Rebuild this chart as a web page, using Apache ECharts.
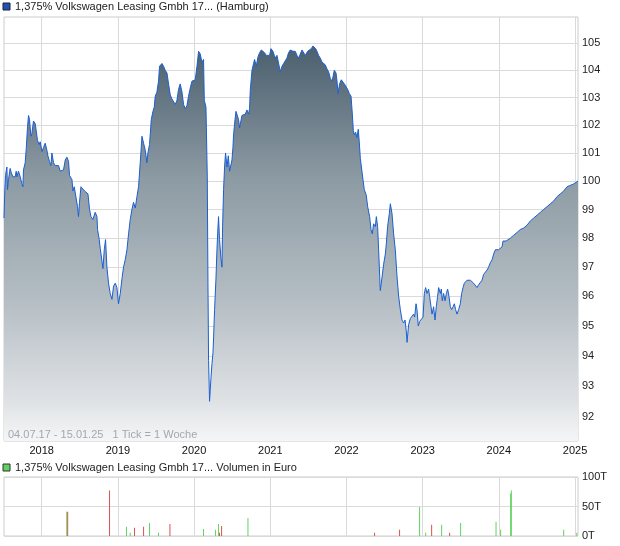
<!DOCTYPE html>
<html><head><meta charset="utf-8">
<script src="https://cdn.jsdelivr.net/npm/echarts@6/dist/echarts.min.js"></script>
<style>html,body{margin:0;padding:0;background:#fff}#c{width:620px;height:546px}</style>
</head><body><div id="c"></div>
<script>
const seriesName = '1,375% Volkswagen Leasing Gmbh 17... (Hamburg)';
const volName = '1,375% Volkswagen Leasing Gmbh 17... Volumen in Euro';
const infoText = '04.07.17 - 15.01.25   1 Tick = 1 Woche';
const yearTicks = [2018, 2019, 2020, 2021, 2022, 2023, 2024, 2025];
const priceTicks = [92, 93, 94, 95, 96, 97, 98, 99, 100, 101, 102, 103, 104, 105];
const volTicks = [0, 50000, 100000];

// decimal years (04.07.17 - 15.01.25)
const years = [
2017.505,2017.515,2017.525,2017.543,2017.551,2017.564,2017.586,2017.600,2017.622,2017.652,2017.665,2017.674,2017.695,2017.718,2017.740,2017.753,2017.761,2017.783,2017.797,2017.814,2017.827,2017.840,2017.858,2017.871,2017.892,2017.915,2017.937,2017.945,2017.967,2017.980,
2018.003,2018.024,2018.046,2018.068,2018.081,2018.102,2018.121,2018.134,2018.155,2018.177,2018.221,2018.243,2018.286,2018.309,2018.331,2018.352,2018.365,2018.397,2018.410,2018.427,2018.453,2018.470,2018.483,2018.496,2018.515,2018.541,2018.562,2018.584,2018.607,2018.628,2018.646,2018.672,2018.702,2018.725,2018.733,2018.755,2018.768,2018.790,2018.804,2018.821,2018.838,2018.856,2018.877,2018.899,2018.922,2018.943,2018.965,2018.987,
2019.008,2019.031,2019.053,2019.074,2019.096,2019.119,2019.140,2019.162,2019.184,2019.205,2019.228,2019.250,2019.271,2019.293,2019.316,2019.337,2019.359,2019.381,2019.394,2019.415,2019.438,2019.460,2019.477,2019.490,2019.512,2019.533,2019.547,2019.578,2019.599,2019.621,2019.644,2019.665,2019.687,2019.709,2019.730,2019.753,2019.775,2019.796,2019.818,2019.841,2019.862,2019.884,2019.906,2019.927,2019.950,2019.972,
2020.015,2020.038,2020.059,2020.072,2020.081,2020.103,2020.124,2020.134,2020.156,2020.173,2020.182,2020.190,2020.203,2020.221,2020.235,2020.248,2020.256,2020.269,2020.287,2020.300,2020.313,2020.321,2020.334,2020.353,2020.366,2020.374,2020.387,2020.400,2020.413,2020.432,2020.449,2020.466,2020.484,2020.497,2020.510,2020.518,2020.537,2020.550,2020.571,2020.584,2020.597,2020.615,2020.628,2020.649,2020.672,2020.694,2020.715,2020.728,2020.737,2020.760,2020.781,2020.794,2020.816,2020.839,2020.860,2020.882,2020.904,2020.925,2020.947,2020.970,2020.991,
2021.009,2021.035,2021.053,2021.066,2021.088,2021.109,2021.131,2021.154,2021.175,2021.197,2021.219,2021.240,2021.263,2021.298,2021.328,2021.351,2021.372,2021.394,2021.416,2021.437,2021.460,2021.490,2021.516,2021.538,2021.561,2021.582,2021.600,2021.613,2021.634,2021.656,2021.679,2021.700,2021.722,2021.744,2021.765,2021.788,2021.810,2021.823,2021.840,2021.863,2021.876,2021.889,2021.910,2021.932,2021.955,2021.972,2021.994,
2022.015,2022.037,2022.060,2022.077,2022.090,2022.103,2022.120,2022.138,2022.155,2022.168,2022.182,2022.217,2022.234,2022.260,2022.278,2022.304,2022.322,2022.339,2022.356,2022.379,2022.392,2022.409,2022.422,2022.444,2022.457,2022.474,2022.488,2022.510,2022.523,2022.540,2022.562,2022.576,2022.598,2022.619,2022.641,2022.663,2022.685,2022.707,2022.729,2022.750,2022.769,2022.786,2022.795,2022.816,2022.838,2022.860,2022.881,2022.895,2022.913,2022.926,2022.943,2022.960,2022.982,
2023.005,2023.022,2023.039,2023.057,2023.078,2023.091,2023.110,2023.123,2023.144,2023.162,2023.179,2023.196,2023.210,2023.232,2023.245,2023.258,2023.275,2023.294,2023.311,2023.328,2023.346,2023.363,2023.380,2023.399,2023.416,2023.433,2023.451,2023.472,2023.494,2023.512,2023.530,2023.547,2023.564,2023.582,2023.603,2023.626,2023.648,2023.669,2023.691,2023.714,2023.735,2023.757,2023.779,2023.800,2023.823,2023.845,2023.866,2023.888,2023.911,2023.932,2023.954,2023.976,2023.997,
2024.020,2024.042,2024.055,2024.072,2024.095,2024.116,2024.151,2024.194,2024.239,2024.282,2024.326,2024.370,2024.414,2024.457,2024.502,2024.545,2024.588,2024.633,2024.676,2024.720,2024.764,2024.808,2024.851,2024.896,2024.939,2024.982,2025.039
];
const prices = [
98.7,99.65,100.2,100.5,99.7,100.05,100.45,100.3,100.15,100.15,100.35,100.15,100.35,100.15,99.9,99.8,100.4,100.65,101.15,101.95,102.35,102.2,101.6,101.7,102.15,102.05,102.05,101.45,101.3,101.4,
101.05,101.2,101.35,101.1,100.9,100.7,100.55,101.0,100.65,100.55,100.55,100.35,100.4,100.75,100.85,100.7,100.2,100.05,99.65,99.8,99.8,99.1,98.75,99.25,99.8,99.85,99.65,99.7,99.55,99.0,98.75,98.65,98.9,98.75,98.3,97.95,97.65,97.6,96.95,97.6,97.95,97.0,96.45,96.1,95.9,96.35,96.45,96.3,
95.75,96.1,96.6,97.0,97.25,97.6,98.15,98.65,99.0,99.25,99.05,99.45,99.8,100.65,101.6,101.35,101.1,100.65,101.0,101.3,102.2,102.5,102.65,103.05,103.2,103.6,104.15,104.25,104.15,104.0,103.9,103.5,103.1,102.95,103.0,102.75,102.9,103.3,103.5,103.2,102.75,102.6,102.7,103.05,103.35,103.6,
103.65,104.15,104.7,104.75,104.6,104.3,104.4,102.9,102.65,100.15,96.45,93.85,92.5,93.25,93.75,94.1,94.6,95.55,96.6,97.6,98.35,98.75,97.95,97.3,97.0,98.4,99.7,100.5,101.0,100.5,100.9,100.35,100.4,100.75,101.2,101.65,102.2,102.5,102.5,102.2,101.9,101.95,102.35,102.4,102.4,102.55,102.4,102.6,103.25,104.0,104.25,104.4,104.15,104.5,104.65,104.75,104.7,104.65,104.55,104.5,104.55,
104.8,104.7,104.55,104.45,104.55,104.5,103.95,104.15,104.25,104.3,104.45,104.65,104.75,104.7,104.7,104.55,104.45,104.5,104.75,104.7,104.55,104.7,104.75,104.8,104.9,104.88,104.78,104.7,104.55,104.45,104.3,104.25,104.2,104.05,103.95,103.7,103.6,103.75,104.0,103.9,103.6,103.15,103.5,103.65,103.65,103.5,103.4,
103.3,103.15,103.05,102.4,101.8,101.65,101.75,101.55,101.85,101.4,100.8,100.05,99.7,99.5,99.1,98.75,98.3,98.15,98.5,98.4,98.75,98.4,97.6,96.2,96.45,96.8,97.1,97.45,97.8,98.4,98.85,99.2,98.85,98.15,97.6,96.7,96.0,95.55,95.2,95.1,95.2,94.8,94.45,95.05,95.25,95.3,95.4,95.3,95.75,95.55,95.0,95.15,95.1,
95.3,96.1,96.3,96.1,96.25,96.0,95.65,95.4,95.65,95.2,95.65,96.0,96.3,96.1,96.25,95.85,96.1,95.85,96.1,96.25,96.0,95.65,95.55,95.65,95.75,95.55,95.4,95.55,95.75,96.1,96.3,96.45,96.5,96.55,96.5,96.55,96.5,96.45,96.4,96.3,96.4,96.45,96.55,96.75,96.8,96.9,97.0,97.15,97.25,97.45,97.6,97.6,97.6,
97.65,97.7,97.9,97.95,97.9,97.95,98.0,98.1,98.2,98.3,98.35,98.45,98.6,98.7,98.8,98.9,99.0,99.1,99.2,99.3,99.45,99.55,99.65,99.8,99.85,99.9,100.0
];

const volYears = [2018.328,2018.341,2018.890,2019.113,2019.162,2019.218,2019.337,2019.415,2019.533,2019.683,2020.124,2020.282,2020.321,2020.334,2020.361,2020.707,2022.369,2022.697,2022.960,2023.039,2023.118,2023.249,2023.354,2023.498,2023.963,2024.023,2024.155,2024.164,2024.851,2025.023];
const volValues = [41000,41000,77000,15500,5500,14000,15500,22000,5500,20500,12000,10500,20500,5500,17000,30500,5500,10500,49000,5500,19000,19000,5500,22000,24000,10500,72000,77000,10500,5500];
const volDir = ['g','r','r','g','g','r','r','g','g','r','g','g','g','r','r','g','r','r','g','g','r','g','r','g','g','g','g','g','g','g'];

const X_MIN = 2017.505, X_MAX = 2025.039;
const Y_MIN = 91.21, Y_MAX = 105.98;

const ln = Math.log;
const priceData = years.map((y, i) => [y, ln(prices[i])]);
const upData = [], downData = [];
volYears.forEach((y, i) => { (volDir[i] === 'g' ? upData : downData).push([y, volValues[i]]); });

const FONT = '"Liberation Sans", Arial, sans-serif';
const gridLine = { show: true, lineStyle: { color: '#dadada', width: 1 } };

const chart = echarts.init(document.getElementById('c'), null, { renderer: 'canvas' });
chart.setOption({
  animation: false,
  backgroundColor: '#fff',
  textStyle: { fontFamily: FONT },
  grid: [
    { left: 4, right: 42, top: 17, bottom: 105, show: true, borderColor: '#cccccc', borderWidth: 1 },
    { left: 4, right: 42, top: 477, height: 59, show: true, borderColor: '#cccccc', borderWidth: 1 }
  ],
  xAxis: [
    { type: 'value', gridIndex: 0, min: X_MIN, max: X_MAX,
      axisLine: { show: false }, axisTick: { show: false, customValues: yearTicks },
      axisLabel: { customValues: yearTicks, formatter: v => String(Math.round(v)), color: '#111', fontSize: 11, margin: 4, fontFamily: FONT },
      splitLine: gridLine },
    { type: 'value', gridIndex: 1, min: X_MIN, max: X_MAX,
      axisLine: { show: false }, axisTick: { show: false, customValues: yearTicks },
      axisLabel: { show: false, customValues: yearTicks },
      splitLine: gridLine }
  ],
  yAxis: [
    { type: 'value', gridIndex: 0, position: 'right', min: ln(Y_MIN), max: ln(Y_MAX),
      axisLine: { show: false }, axisTick: { show: false, customValues: priceTicks.map(ln) },
      axisLabel: { customValues: priceTicks.map(ln), formatter: v => String(Math.round(Math.exp(v))), color: '#222', fontSize: 11, margin: 4, fontFamily: FONT },
      splitLine: gridLine },
    { type: 'value', gridIndex: 1, position: 'right', min: 0, max: 100000, interval: 50000,
      axisLine: { show: false }, axisTick: { show: false, customValues: volTicks },
      axisLabel: { customValues: volTicks, formatter: v => (v / 1000) + 'T', color: '#222', fontSize: 11, margin: 4, fontFamily: FONT },
      splitLine: gridLine }
  ],
  series: [
    { type: 'line', name: seriesName, xAxisIndex: 0, yAxisIndex: 0, data: priceData,
      symbol: 'none', showSymbol: false, z: 3,
      lineStyle: { color: '#1b5fd1', width: 1 },
      itemStyle: { color: '#1b5fd1' },
      areaStyle: { origin: 'start', opacity: 1, color: { type: 'linear', x: 0, y: 0, x2: 0, y2: 1, colorStops: [
        { offset: 0, color: '#4b5f6e' }, { offset: 0.34, color: '#8d9ba4' }, { offset: 0.64, color: '#b4bdc3' },
        { offset: 0.9, color: '#dfe2e5' }, { offset: 1, color: '#f5f6f7' } ] } } },
    { type: 'bar', name: volName, xAxisIndex: 1, yAxisIndex: 1, data: upData, barWidth: 1, barGap: '-100%',
      itemStyle: { color: '#5fd35f' } },
    { type: 'bar', name: 'Volumen (down)', xAxisIndex: 1, yAxisIndex: 1, data: downData, barWidth: 1, barGap: '-100%',
      itemStyle: { color: '#d9534f' } }
  ],
  graphic: [
    { type: 'rect', shape: { x: 3, y: 3, width: 7, height: 7 }, style: { fill: '#1f52b8', stroke: '#222', lineWidth: 1 } },
    { type: 'text', x: 15, y: 7, style: { text: seriesName, fill: '#222', font: '11px ' + FONT, verticalAlign: 'middle' } },
    { type: 'rect', shape: { x: 3, y: 464, width: 7, height: 7 }, style: { fill: '#5fd35f', stroke: '#333', lineWidth: 1 } },
    { type: 'text', x: 15, y: 467.5, style: { text: volName, fill: '#222', font: '11px ' + FONT, verticalAlign: 'middle' } },
    { type: 'text', x: 8, y: 435, z: 10, style: { text: infoText, fill: '#a3a8b0', font: '11px ' + FONT, verticalAlign: 'middle' } }
  ]
});
</script>
</body></html>
